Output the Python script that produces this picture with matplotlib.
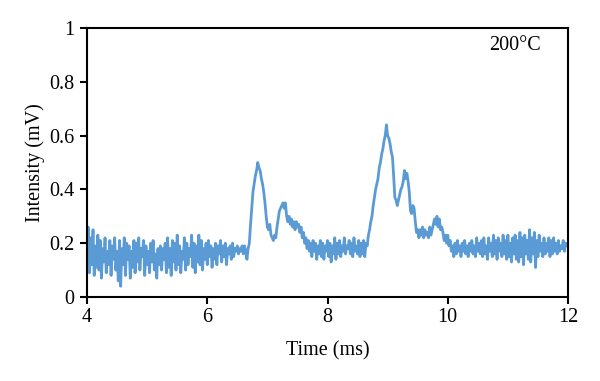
import numpy as np
import matplotlib
matplotlib.use('Agg')
import matplotlib.pyplot as plt

plt.rcParams['font.family'] = ['Liberation Serif', 'DejaVu Serif']

# signal sampled every 0.02 ms from 4 to 12 ms
t_start, t_end = 4.0, 12.0
intensity = [
    0.16, 0.26, 0.09, 0.22, 0.12, 0.25, 0.08, 0.19, 0.11, 0.23,
    0.10, 0.21, 0.07, 0.18, 0.13, 0.22, 0.09, 0.17, 0.12, 0.21,
    0.08, 0.19, 0.14, 0.22, 0.10, 0.17, 0.06, 0.21, 0.04, 0.18,
    0.12, 0.22, 0.08, 0.20, 0.14, 0.19, 0.07, 0.17, 0.11, 0.21,
    0.09, 0.20, 0.13, 0.22, 0.10, 0.18, 0.15, 0.21, 0.08, 0.19,
    0.12, 0.17, 0.09, 0.20, 0.13, 0.21, 0.10, 0.16, 0.07, 0.18,
    0.12, 0.19, 0.10, 0.18, 0.14, 0.20, 0.09, 0.22, 0.11, 0.18,
    0.08, 0.21, 0.13, 0.20, 0.10, 0.23, 0.12, 0.19, 0.09, 0.17,
    0.14, 0.22, 0.10, 0.20, 0.12, 0.18, 0.15, 0.23, 0.11, 0.20,
    0.09, 0.19, 0.13, 0.23, 0.12, 0.21, 0.10, 0.18, 0.14, 0.20,
    0.12, 0.21, 0.15, 0.19, 0.11, 0.18, 0.14, 0.20, 0.12, 0.19,
    0.16, 0.21, 0.13, 0.19, 0.15, 0.20, 0.12, 0.18, 0.16, 0.19,
    0.14, 0.20, 0.15, 0.18, 0.17, 0.19, 0.16, 0.18, 0.17, 0.19,
    0.16, 0.19, 0.17, 0.14, 0.18, 0.20, 0.27, 0.33, 0.39, 0.42,
    0.45, 0.47, 0.50, 0.48, 0.47, 0.44, 0.42, 0.39, 0.35, 0.30,
    0.26, 0.25, 0.27, 0.23, 0.22, 0.21, 0.23, 0.22, 0.26, 0.29,
    0.32, 0.33, 0.34, 0.35, 0.33, 0.35, 0.30, 0.28, 0.30, 0.27,
    0.29, 0.26, 0.28, 0.25, 0.28, 0.26, 0.27, 0.24, 0.26, 0.22,
    0.24, 0.20, 0.22, 0.18, 0.21, 0.17, 0.20, 0.15, 0.21, 0.17,
    0.20, 0.14, 0.19, 0.16, 0.21, 0.15, 0.20, 0.14, 0.19, 0.17,
    0.21, 0.15, 0.20, 0.13, 0.19, 0.16, 0.22, 0.14, 0.20, 0.16,
    0.21, 0.15, 0.19, 0.17, 0.22, 0.16, 0.19, 0.18, 0.21, 0.16,
    0.20, 0.15, 0.22, 0.17, 0.19, 0.16, 0.21, 0.15, 0.20, 0.16,
    0.21, 0.15, 0.20, 0.19, 0.23, 0.25, 0.28, 0.30, 0.34, 0.37,
    0.40, 0.42, 0.44, 0.48, 0.50, 0.53, 0.55, 0.58, 0.60, 0.64,
    0.60, 0.59, 0.57, 0.54, 0.52, 0.45, 0.37, 0.36, 0.34, 0.36,
    0.38, 0.40, 0.41, 0.43, 0.47, 0.44, 0.46, 0.43, 0.39, 0.32,
    0.31, 0.34, 0.33, 0.28, 0.24, 0.25, 0.22, 0.25, 0.23, 0.26,
    0.22, 0.25, 0.23, 0.24, 0.22, 0.26, 0.23, 0.25, 0.27, 0.29,
    0.27, 0.30, 0.26, 0.29, 0.25, 0.26, 0.24, 0.21, 0.23, 0.20,
    0.23, 0.19, 0.21, 0.17, 0.19, 0.15, 0.20, 0.16, 0.21, 0.17,
    0.19, 0.15, 0.20, 0.17, 0.21, 0.16, 0.19, 0.15, 0.20, 0.17,
    0.21, 0.16, 0.19, 0.15, 0.22, 0.17, 0.20, 0.16, 0.21, 0.15,
    0.22, 0.16, 0.19, 0.14, 0.22, 0.17, 0.20, 0.15, 0.23, 0.16,
    0.21, 0.14, 0.22, 0.17, 0.20, 0.15, 0.23, 0.16, 0.21, 0.14,
    0.23, 0.15, 0.20, 0.13, 0.22, 0.16, 0.23, 0.14, 0.21, 0.13,
    0.24, 0.15, 0.22, 0.12, 0.23, 0.16, 0.21, 0.14, 0.25, 0.13,
    0.22, 0.16, 0.24, 0.11, 0.21, 0.15, 0.23, 0.17, 0.20, 0.15,
    0.22, 0.16, 0.20, 0.17, 0.22, 0.15, 0.21, 0.16, 0.22, 0.17,
    0.20, 0.16, 0.21, 0.17, 0.19, 0.18, 0.21, 0.17, 0.20, 0.19,
    0.20,
]
time = np.linspace(t_start, t_end, len(intensity))

x_ticks = [4, 6, 8, 10, 12]
y_ticks = [0, 0.2, 0.4, 0.6, 0.8, 1]
y_tick_labels = ['0', '0.2', '0.4', '0.6', '0.8', '1']

fig = plt.figure(figsize=(6, 3.81), dpi=100)
ax = fig.add_axes([0.145, 0.2205, 0.8017, 0.706])

ax.plot(time, intensity, color='#5b9bd5', linewidth=2.0)

ax.set_xlim(4, 12)
ax.set_ylim(0, 1)
ax.set_xticks(x_ticks)
ax.set_yticks(y_ticks)
ax.set_yticklabels(y_tick_labels)
ax.tick_params(direction='out', length=5, width=1.5, labelsize=14.5, colors='black')
ax.tick_params(axis='x', pad=3)
ax.tick_params(axis='y', pad=4)
for s in ax.spines.values():
    s.set_linewidth(1.5)
    s.set_color('black')

ax.set_xlabel('Time (ms)', fontsize=14.5, labelpad=10)
ax.set_ylabel('Intensity (mV)', fontsize=14.5, labelpad=3)
ax.text(0.89, 0.935, '200°C', transform=ax.transAxes, fontsize=14.5,
        ha='center', va='center')

plt.savefig('out.png', dpi=100)
plt.close()
